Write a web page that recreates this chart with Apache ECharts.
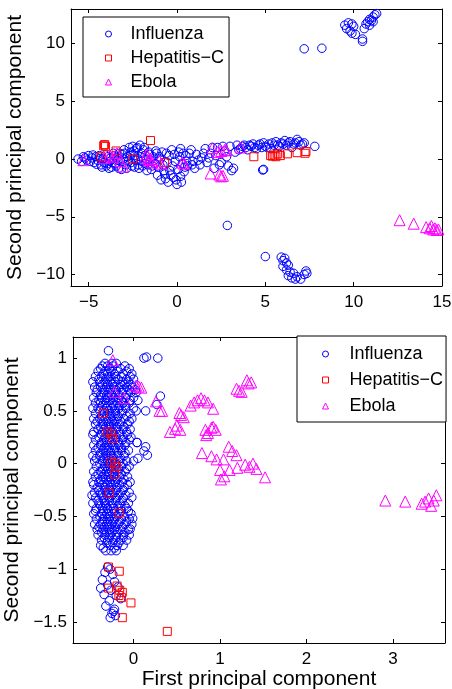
<!DOCTYPE html>
<html lang="en">
<head>
    <meta charset="UTF-8">
    <title>PCA scatter</title>
    <script src="https://cdn.jsdelivr.net/npm/echarts@6.0.0/dist/echarts.min.js"></script>
    <style>
        html, body { margin: 0; padding: 0; background: #fff; }
    </style>
</head>
<body>
    <div id="main" style="width: 452px;height:689px;"></div>
    <script type="text/javascript">
        // legend / series names
        const seriesNames = ['Influenza', 'Hepatitis\u2212C', 'Ebola'];

        // tick labels
        const topXTicks = [-5, 0, 5, 10, 15];
        const topYTicks = [-10, -5, 0, 5, 10];
        const botXTicks = [0, 1, 2, 3];
        const botYTicks = [-1.5, -1, -0.5, 0, 0.5, 1];

        // upper panel, [first PC, second PC]
        const topInfluenza = [
            [-5.6,0.0],[-5.3,0.2],[-5.1,-0.1],[-5.0,0.3],[-4.8,0.1],[-4.7,-0.3],[-4.6,0.2],[-4.5,-0.1],[-4.4,0.3],[-4.3,-0.5],
            [-4.2,0.0],[-4.1,-0.3],[-4.0,-0.6],[-3.9,0.2],[-3.8,-0.2],[-3.7,-0.7],[-3.6,0.5],[-3.5,-0.4],[-3.4,0.1],[-3.3,-0.8],
            [-3.2,-0.2],[-3.1,0.4],[-3.0,0.8],[-2.9,-0.5],[-2.8,0.2],[-2.7,1.0],[-2.6,0.6],[-2.6,-0.3],[-2.5,1.1],[-2.4,0.3],
            [-2.4,-0.7],[-2.3,0.9],[-2.2,0.0],[-2.2,-0.5],[-2.1,1.2],[-2.0,0.5],[-2.0,-0.2],[-1.9,0.8],[-1.8,-0.4],[-1.8,0.3],
            [-1.7,-1.0],[-1.6,0.6],[-1.5,-0.1],[-1.4,-0.6],[-1.2,0.7],[-1.1,-1.4],[-1.0,0.2],[-0.9,-1.8],[-0.8,-0.5],[-0.7,-1.3],
            [-0.6,0.5],[-0.5,-2.0],[-0.4,-1.0],[-0.3,0.8],[-0.2,-1.6],[-0.1,-0.2],[0.0,-2.2],[0.1,0.6],[0.2,-1.5],[0.2,0.9],
            [0.3,-0.4],[0.4,-1.1],[0.5,0.3],[0.6,-0.6],[0.8,0.8],[0.9,-0.2],[1.0,-0.8],[1.1,0.4],[1.3,-0.5],[1.4,0.1],
            [1.6,0.9],[1.7,-0.3],[1.9,0.5],[2.1,-0.8],[2.3,1.0],[2.5,-0.3],[2.7,0.7],[2.9,-0.6],[3.0,1.1],[3.1,-1.0],
            [3.2,-0.8],[3.3,0.6],[3.4,1.2],[3.6,0.9],[3.8,1.2],[4.0,0.8],[4.2,1.1],[4.3,1.3],[4.5,0.9],[4.6,1.2],
            [4.8,1.0],[4.9,1.4],[5.0,1.1],[5.2,1.3],[5.3,0.9],[5.5,1.2],[5.6,1.5],[5.8,1.1],[5.9,1.4],[6.1,1.6],
            [6.2,1.2],[6.4,1.5],[6.5,1.0],[6.7,1.4],[6.8,1.7],[7.0,1.2],[7.2,1.4],[7.8,1.1],[4.85,-0.95],[4.9,-0.9],
            [-5.4,-0.2],[-5.2,0.1],[-4.9,-0.2],[-4.75,0.35],[-4.55,-0.45],[-4.35,0.05],[-4.25,-0.7],[-4.05,0.35],[-3.95,-0.4],[-3.85,-0.8],
            [-3.75,0.1],[-3.65,-0.3],[-3.55,0.3],[-3.45,-0.6],[-3.35,-0.1],[-3.25,0.5],[-3.15,-0.9],[-3.05,0.0],[-2.95,0.5],[-2.85,-0.8],
            [-2.75,-0.2],[-2.65,0.3],[-2.55,-0.6],[-2.45,0.7],[-2.35,-0.1],[-2.25,1.0],[-2.15,-0.8],[-2.05,0.2],[-1.95,-0.6],[-1.85,1.0],
            [-1.75,0.0],[-1.65,-0.5],[-1.55,0.4],[-1.45,-0.9],[-1.35,0.2],[-1.25,-0.4],[-1.15,0.5],[-1.05,-0.7],[-0.95,0.0],[-0.85,0.6],
            [-0.75,-1.0],[-0.65,-1.7],[-0.55,-0.3],[-0.45,0.3],[-0.35,-1.4],[-0.25,-0.6],[-0.15,0.4],[-0.05,-1.8],[0.05,-0.9],[0.15,0.2],
            [0.25,-2.0],[0.35,0.5],[0.45,-0.7],[0.55,-0.2],[0.7,0.5],[0.85,-0.5],[1.2,-0.1],[1.5,0.5],[1.8,0.1],[2.0,1.0],
            [2.2,0.3],[2.4,-0.5],[2.6,1.1],[2.8,0.2],[3.5,0.8],[3.7,1.1],[3.9,1.0],[4.1,1.2],[4.4,1.0],[4.7,1.3],
            [5.1,1.0],[5.4,1.4],[5.7,1.2],[6.0,1.3],[6.3,1.4],[6.6,1.3],[6.9,1.5],[7.1,1.3],
            [2.85,-5.75],[5.0,-8.45],[5.9,-8.5],[6.0,-8.8],[6.1,-8.6],[6.2,-9.0],[6.0,-9.3],[6.2,-9.6],[6.3,-9.2],[6.4,-9.8],
            [6.3,-10.1],[6.5,-10.3],[6.6,-9.9],[6.7,-10.4],[6.8,-10.2],[7.0,-10.4],[7.2,-10.0],[7.3,-9.7],[7.35,-9.9],
            [7.2,9.55],[8.2,9.6],[9.5,11.6],[9.6,11.3],[9.7,11.8],[9.8,11.1],[9.9,10.9],[10.0,11.5],[9.9,11.7],[10.1,10.8],
            [10.5,10.4],[10.5,10.2],[10.6,11.3],[10.7,11.7],[10.8,11.9],[10.9,12.1],[11.0,12.0],[11.1,12.3],[11.2,12.5],[11.3,12.6],
            [10.9,11.6],[11.1,11.9]
        ];
        const topHepatitis = [
            [-4.15,1.15],[-4.1,1.25],[-4.05,1.1],[-4.3,0.2],[-3.45,0.7],[-2.5,0.0],[-1.5,1.6],[-0.7,-0.3],[4.35,0.2],[5.3,0.3],
            [5.4,0.25],[5.5,0.35],[5.6,0.2],[5.7,0.45],[5.85,0.3],[6.25,0.45],[6.8,0.55],[7.25,0.5],[7.3,0.65]
        ];
        const topEbola = [
            [-5.3,-0.1],[-4.1,0.1],[-3.8,0.3],[-3.6,0.2],[-3.4,0.5],[-3.05,-0.65],[-3.2,-0.2],[-1.8,0.2],[-1.7,0.4],[-1.6,-0.1],
            [-1.5,0.0],[-1.4,-0.3],[-1.0,-0.15],[-0.9,-0.4],[0.3,-0.3],[0.4,-0.4],[2.0,0.95],[2.3,0.6],[2.5,0.7],[2.7,0.8],
            [2.8,0.75],[3.6,1.0],[1.9,-1.25],[2.4,-1.35],[2.5,-1.5],[2.6,-1.45],[12.6,-5.3],[13.4,-5.6],[14.1,-5.9],[14.3,-6.0],
            [14.4,-5.8],[14.5,-6.1],[14.6,-6.0],[14.7,-6.15],[14.8,-6.1]
        ];

        // lower panel, [first PC, second PC]
        const botInfluenza = [
            [-0.29,1.07],[-0.33,0.95],[-0.25,0.95],[-0.2,0.95],[-0.38,0.9],[-0.28,0.9],[-0.15,0.9],[-0.05,0.9],
            [-0.35,0.85],[-0.3,0.85],[-0.22,0.85],[-0.12,0.85],[-0.02,0.85],[-0.4,0.8],[-0.32,0.8],[-0.26,0.8],[-0.18,0.8],[-0.08,0.8],[0.0,0.8],
            [-0.36,0.75],[-0.3,0.75],[-0.24,0.75],[-0.15,0.75],[-0.1,0.75],[-0.03,0.75],
            [-0.42,0.7],[-0.34,0.7],[-0.27,0.7],[-0.2,0.7],[-0.12,0.7],[-0.05,0.7],[0.02,0.7],
            [-0.38,0.65],[-0.31,0.65],[-0.25,0.65],[-0.17,0.65],[-0.08,0.65],
            [-0.4,0.6],[-0.33,0.6],[-0.27,0.6],[-0.2,0.6],[-0.14,0.6],[-0.04,0.6],[0.05,0.6],
            [-0.36,0.55],[-0.3,0.55],[-0.23,0.55],[-0.16,0.55],[-0.1,0.55],
            [-0.39,0.5],[-0.34,0.5],[-0.28,0.5],[-0.21,0.5],[-0.13,0.5],[0.03,0.5],[0.14,0.5],
            [-0.37,0.45],[-0.31,0.45],[-0.25,0.45],[-0.18,0.45],[-0.08,0.45],
            [-0.42,0.4],[-0.35,0.4],[-0.29,0.4],[-0.22,0.4],[-0.15,0.4],[-0.05,0.4],
            [-0.38,0.35],[-0.32,0.35],[-0.26,0.35],[-0.19,0.35],[-0.11,0.35],
            [-0.46,0.3],[-0.36,0.3],[-0.3,0.3],[-0.24,0.3],[-0.16,0.3],[-0.08,0.3],
            [-0.4,0.25],[-0.33,0.25],[-0.27,0.25],[-0.2,0.25],[-0.12,0.25],[-0.03,0.25],
            [-0.37,0.2],[-0.31,0.2],[-0.25,0.2],[-0.17,0.2],[-0.09,0.2],[0.04,0.2],
            [-0.41,0.15],[-0.34,0.15],[-0.28,0.15],[-0.21,0.15],[-0.14,0.15],[0.14,0.16],
            [-0.38,0.1],[-0.32,0.1],[-0.26,0.1],[-0.18,0.1],[-0.1,0.1],[0.16,0.08],
            [-0.43,0.05],[-0.35,0.05],[-0.29,0.05],[-0.23,0.05],[-0.15,0.05],[0.05,0.05],
            [-0.39,0.0],[-0.33,0.0],[-0.27,0.0],[-0.2,0.0],[-0.12,0.0],
            [-0.36,-0.05],[-0.3,-0.05],[-0.24,-0.05],[-0.17,-0.05],[-0.08,-0.05],
            [-0.41,-0.1],[-0.34,-0.1],[-0.28,-0.1],[-0.22,-0.1],[-0.14,-0.1],
            [-0.38,-0.15],[-0.32,-0.15],[-0.26,-0.15],[-0.19,-0.15],[-0.11,-0.15],
            [-0.46,-0.2],[-0.36,-0.2],[-0.3,-0.2],[-0.23,-0.2],[-0.16,-0.2],[-0.07,-0.2],
            [-0.4,-0.25],[-0.33,-0.25],[-0.27,-0.25],[-0.2,-0.25],[-0.12,-0.25],
            [-0.48,-0.3],[-0.37,-0.3],[-0.31,-0.3],[-0.25,-0.3],[-0.17,-0.3],[-0.09,-0.3],
            [-0.41,-0.35],[-0.34,-0.35],[-0.28,-0.35],[-0.21,-0.35],[-0.13,-0.35],[-0.02,-0.32],
            [-0.38,-0.4],[-0.32,-0.4],[-0.26,-0.4],[-0.18,-0.4],[-0.1,-0.4],
            [-0.44,-0.45],[-0.35,-0.45],[-0.29,-0.45],[-0.22,-0.45],[-0.14,-0.45],[-0.06,-0.45],
            [-0.39,-0.5],[-0.33,-0.5],[-0.27,-0.5],[-0.2,-0.5],[-0.11,-0.5],[-0.01,-0.52],
            [-0.36,-0.55],[-0.3,-0.55],[-0.24,-0.55],[-0.16,-0.55],[-0.08,-0.55],
            [-0.4,-0.6],[-0.34,-0.6],[-0.28,-0.6],[-0.21,-0.6],[-0.13,-0.6],[-0.04,-0.62],
            [-0.37,-0.65],[-0.31,-0.65],[-0.25,-0.65],[-0.18,-0.65],[-0.1,-0.65],
            [-0.34,-0.7],[-0.28,-0.7],[-0.2,-0.7],[-0.12,-0.7],
            [-0.31,-0.75],[-0.24,-0.75],[-0.17,-0.75],[-0.35,-0.8],[-0.22,-0.8],
            [-0.36,0.925],[-0.3,0.925],[-0.24,0.925],[-0.1,0.925],
            [-0.41,0.875],[-0.33,0.875],[-0.26,0.875],[-0.19,0.875],[-0.08,0.875],
            [-0.44,0.825],[-0.37,0.825],[-0.29,0.825],[-0.21,0.825],[-0.14,0.825],[-0.04,0.825],
            [-0.47,0.775],[-0.39,0.775],[-0.33,0.775],[-0.27,0.775],[-0.21,0.775],[-0.13,0.775],[-0.06,0.775],
            [-0.45,0.725],[-0.38,0.725],[-0.31,0.725],[-0.23,0.725],[-0.16,0.725],[-0.08,0.725],[-0.01,0.725],
            [-0.43,0.675],[-0.35,0.675],[-0.28,0.675],[-0.21,0.675],[-0.13,0.675],[-0.03,0.675],[0.03,0.675],
            [-0.46,0.625],[-0.37,0.625],[-0.3,0.625],[-0.23,0.625],[-0.17,0.625],[-0.09,0.625],[0.0,0.625],
            [-0.44,0.575],[-0.38,0.575],[-0.32,0.575],[-0.25,0.575],[-0.19,0.575],[-0.12,0.575],[-0.05,0.575],
            [-0.47,0.525],[-0.41,0.525],[-0.31,0.525],[-0.25,0.525],[-0.17,0.525],[-0.09,0.525],[0.0,0.525],
            [-0.44,0.475],[-0.34,0.475],[-0.28,0.475],[-0.21,0.475],[-0.14,0.475],[-0.04,0.475],
            [-0.46,0.425],[-0.39,0.425],[-0.32,0.425],[-0.26,0.425],[-0.19,0.425],[-0.11,0.425],[-0.02,0.425],
            [-0.44,0.375],[-0.36,0.375],[-0.29,0.375],[-0.23,0.375],[-0.16,0.375],[-0.07,0.375],
            [-0.41,0.325],[-0.34,0.325],[-0.27,0.325],[-0.2,0.325],[-0.12,0.325],[-0.04,0.325],
            [-0.47,0.275],[-0.37,0.275],[-0.3,0.275],[-0.23,0.275],[-0.16,0.275],[-0.07,0.275],
            [-0.44,0.225],[-0.34,0.225],[-0.28,0.225],[-0.21,0.225],[-0.13,0.225],[-0.05,0.225],
            [-0.46,0.175],[-0.38,0.175],[-0.31,0.175],[-0.24,0.175],[-0.17,0.175],[-0.1,0.175],
            [-0.44,0.125],[-0.35,0.125],[-0.29,0.125],[-0.22,0.125],[-0.14,0.125],[-0.06,0.125],
            [-0.47,0.075],[-0.39,0.075],[-0.32,0.075],[-0.26,0.075],[-0.19,0.075],[-0.11,0.075],
            [-0.45,0.025],[-0.36,0.025],[-0.3,0.025],[-0.24,0.025],[-0.16,0.025],[-0.08,0.025],[0.0,0.025],
            [-0.43,-0.025],[-0.33,-0.025],[-0.27,-0.025],[-0.21,-0.025],[-0.14,-0.025],[-0.05,-0.025],
            [-0.46,-0.075],[-0.38,-0.075],[-0.31,-0.075],[-0.25,-0.075],[-0.18,-0.075],[-0.1,-0.075],
            [-0.44,-0.125],[-0.36,-0.125],[-0.29,-0.125],[-0.23,-0.125],[-0.16,-0.125],[-0.07,-0.125],
            [-0.47,-0.175],[-0.4,-0.175],[-0.34,-0.175],[-0.27,-0.175],[-0.21,-0.175],[-0.13,-0.175],[-0.04,-0.175],
            [-0.42,-0.225],[-0.33,-0.225],[-0.26,-0.225],[-0.19,-0.225],[-0.11,-0.225],
            [-0.45,-0.275],[-0.38,-0.275],[-0.3,-0.275],[-0.23,-0.275],[-0.15,-0.275],[-0.05,-0.275],
            [-0.44,-0.325],[-0.35,-0.325],[-0.28,-0.325],[-0.2,-0.325],[-0.12,-0.325],
            [-0.47,-0.375],[-0.4,-0.375],[-0.33,-0.375],[-0.24,-0.375],[-0.16,-0.375],[-0.06,-0.375],
            [-0.43,-0.425],[-0.36,-0.425],[-0.3,-0.425],[-0.23,-0.425],[-0.15,-0.425],[-0.08,-0.425],
            [-0.46,-0.475],[-0.37,-0.475],[-0.31,-0.475],[-0.24,-0.475],[-0.17,-0.475],[-0.03,-0.475],
            [-0.43,-0.525],[-0.35,-0.525],[-0.28,-0.525],[-0.22,-0.525],[-0.14,-0.525],[-0.05,-0.525],
            [-0.45,-0.575],[-0.38,-0.575],[-0.31,-0.575],[-0.25,-0.575],[-0.18,-0.575],[-0.1,-0.575],[-0.02,-0.575],
            [-0.42,-0.625],[-0.35,-0.625],[-0.28,-0.625],[-0.22,-0.625],[-0.15,-0.625],[-0.06,-0.625],
            [-0.41,-0.675],[-0.33,-0.675],[-0.27,-0.675],[-0.2,-0.675],[-0.12,-0.675],[-0.05,-0.675],
            [-0.37,-0.725],[-0.3,-0.725],[-0.23,-0.725],[-0.15,-0.725],[-0.08,-0.725],
            [-0.38,-0.775],[-0.27,-0.775],[-0.19,-0.775],[-0.12,-0.775],[-0.32,-0.825],[-0.26,-0.825],[-0.2,-0.825],
            [0.12,1.0],[0.15,1.01],[0.28,1.0],[0.31,0.64],[0.27,0.56],[0.04,0.2],[0.12,0.12],
            [-0.3,-0.98],[-0.27,-1.0],[-0.33,-1.03],[-0.24,-1.05],[-0.36,-1.1],[-0.22,-1.12],[-0.3,-1.15],[-0.38,-1.18],[-0.18,-1.17],[-0.26,-1.2],
            [-0.34,-1.24],[-0.2,-1.25],[-0.28,-1.3],[-0.15,-1.28],[-0.32,-1.35],[-0.22,-1.38],[-0.25,-1.42],[-0.21,-1.44],[-0.27,-1.46],[-0.23,-1.4]
        ];
        const botHepatitis = [
            [-0.35,0.475],[-0.3,0.3],[-0.26,0.28],[-0.24,0.24],[-0.26,0.015],[-0.22,0.0],[-0.2,-0.03],[-0.22,-0.1],[-0.28,-0.28],[-0.165,-0.47],
            [-0.29,-0.98],[-0.165,-1.02],[-0.29,-1.18],[-0.19,-1.16],[-0.16,-1.2],[-0.13,-1.22],[-0.17,-1.25],[-0.14,-1.27],[-0.03,-1.32],[-0.13,-1.46],
            [0.39,-1.59]
        ];
        const botEbola = [
            [-0.24,0.98],[-0.22,0.68],[-0.11,0.62],[0.03,0.74],[0.06,0.73],[0.09,0.72],[0.26,0.59],[0.3,0.5],[0.33,0.5],[0.42,0.3],
            [0.48,0.33],[0.54,0.32],[0.5,0.36],[0.53,0.48],[0.55,0.46],[0.58,0.44],[0.66,0.55],[0.7,0.58],[0.74,0.6],[0.78,0.62],
            [0.82,0.6],[0.86,0.58],[0.92,0.52],[0.83,0.32],[0.86,0.29],[0.9,0.34],[0.92,0.35],[0.95,0.32],[0.84,0.27],[0.79,0.1],
            [0.9,0.07],[0.96,0.04],[1.04,0.04],[1.1,0.16],[1.14,0.12],[1.19,0.08],[1.0,-0.06],[1.01,-0.15],[1.05,-0.12],[1.11,-0.06],
            [1.2,-0.04],[1.29,-0.01],[1.34,-0.03],[1.38,0.0],[1.42,-0.05],[1.52,-0.13],[1.19,0.71],[1.22,0.69],[1.25,0.68],[1.31,0.79],
            [1.33,0.76],[1.36,0.77],[2.91,-0.35],[3.14,-0.36],[3.33,-0.38],[3.37,-0.36],[3.41,-0.33],[3.44,-0.4],[3.47,-0.35],[3.5,-0.3]
        ];

        const minus = (v) => String(v).replace('-', '\u2212');
        const font = 'Liberation Sans, Arial, Helvetica, sans-serif';

        function valueAxes(gridIndex, min, max, ticks, isX, name, nameGap) {
            const main = {
                type: 'value', gridIndex: gridIndex, min: min, max: max,
                name: name, nameLocation: 'middle', nameGap: nameGap,
                nameTextStyle: { fontFamily: font, fontSize: 21, color: '#000' },
                axisLine: { show: true, onZero: false, lineStyle: { color: '#000', width: 1 } },
                axisTick: { show: true, inside: true, length: 4, customValues: ticks, lineStyle: { color: '#000' } },
                axisLabel: { show: true, customValues: ticks, formatter: minus, fontFamily: font, fontSize: 17, color: '#000', margin: isX ? 8 : 6 },
                splitLine: { show: false }
            };
            const mirror = {
                type: 'value', gridIndex: gridIndex, min: min, max: max,
                position: isX ? 'top' : 'right',
                axisLine: { show: true, onZero: false, lineStyle: { color: '#000', width: 1 } },
                axisTick: { show: true, inside: true, length: 4, customValues: ticks, lineStyle: { color: '#000' } },
                axisLabel: { show: false },
                splitLine: { show: false }
            };
            return [main, mirror];
        }

        const topX = valueAxes(0, -6, 15, topXTicks, true, '', 0);
        const topY = valueAxes(0, -11, 13, topYTicks, false, 'Second principal component', 38);
        const botX = valueAxes(1, -0.7, 3.6, botXTicks, true, 'First principal component', 22);
        const botY = valueAxes(1, -1.7, 1.2, botYTicks, false, 'Second principal component', 38);

        const styles = [
            { symbol: 'circle', size: 8.5, color: '#0000ff' },
            { symbol: 'rect', size: 8, color: '#ff0000' },
            { symbol: 'triangle', size: 11, color: '#ff00ff' }
        ];

        function scatter(i, data, xIndex, yIndex) {
            return {
                name: seriesNames[i], type: 'scatter', data: data,
                xAxisIndex: xIndex, yAxisIndex: yIndex,
                symbol: styles[i].symbol, symbolSize: styles[i].size,
                itemStyle: { color: 'rgba(0,0,0,0)', borderColor: styles[i].color, borderWidth: 1, opacity: 1 },
                emphasis: { disabled: true },
                animation: false
            };
        }

        function legendBox(left, top, padding, gap, textPad) {
            return {
                data: seriesNames, orient: 'vertical', left: left, top: top,
                padding: padding, itemGap: gap, itemWidth: 6, itemHeight: 6,
                borderColor: '#000', borderWidth: 1, backgroundColor: '#fff',
                selectedMode: false,
                itemStyle: { borderWidth: 1 },
                textStyle: { fontFamily: font, fontSize: 18, color: '#000', padding: [0, 0, 0, textPad] }
            };
        }

        let options = {
            backgroundColor: '#fff',
            animation: false,
            grid: [
                { left: 71, top: 9, width: 371, height: 277, containLabel: false, outerBoundsMode: 'none' },
                { left: 73, top: 337, width: 372, height: 306, containLabel: false, outerBoundsMode: 'none' }
            ],
            legend: [
                legendBox(83, 17, [8, 5, 6, 22], 6, 14),
                legendBox(297, 336, [9, 3, 7, 25], 8, 16)
            ],
            xAxis: [topX[0], topX[1], botX[0], botX[1]],
            yAxis: [topY[0], topY[1], botY[0], botY[1]],
            series: [
                scatter(0, topInfluenza, 0, 0),
                scatter(1, topHepatitis, 0, 0),
                scatter(2, topEbola, 0, 0),
                scatter(0, botInfluenza, 2, 2),
                scatter(1, botHepatitis, 2, 2),
                scatter(2, botEbola, 2, 2)
            ]
        };

        let myChart = echarts.init(document.getElementById('main'));
        myChart.setOption(options);
    </script>
</body>
</html>
